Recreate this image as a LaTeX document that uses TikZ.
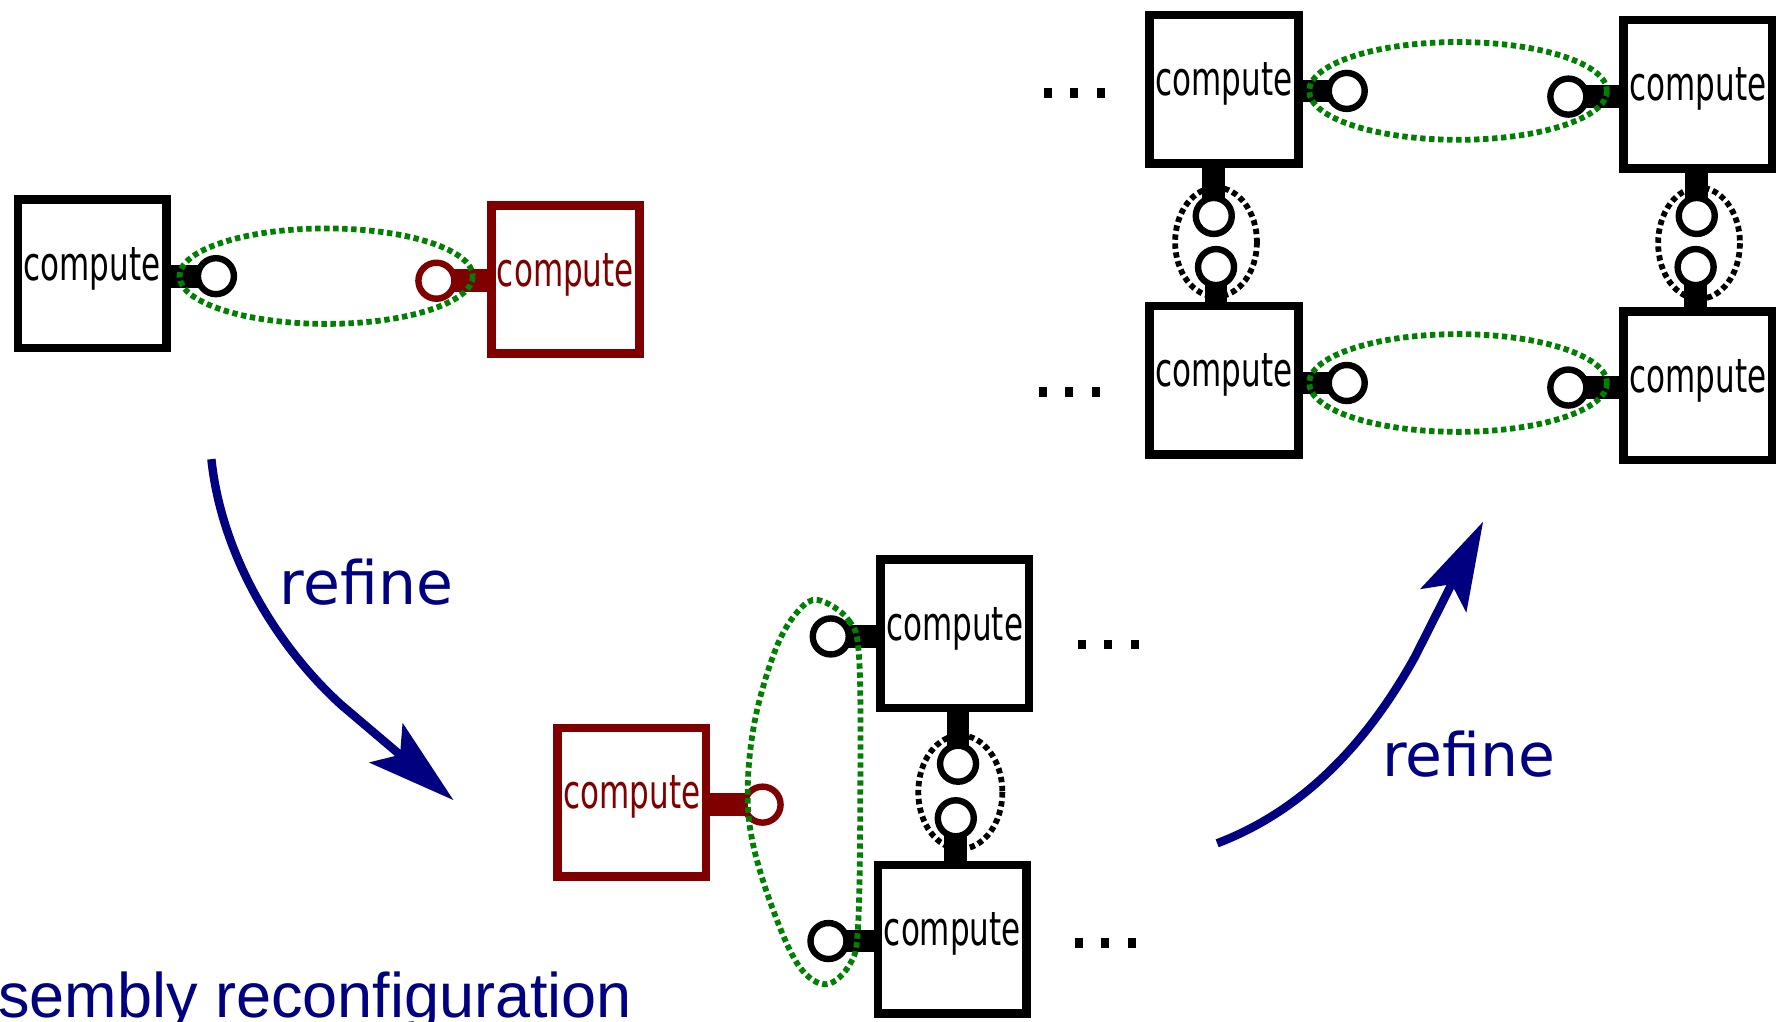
\documentclass[tikz,border=0pt]{standalone}
\usepackage{fontspec}
\usetikzlibrary{arrows.meta}
\newfontfamily\dvs{DejaVu Sans}
\newfontfamily\lib{Liberation Sans}
\definecolor{navyc}{HTML}{000080}
\definecolor{maroonc}{HTML}{800000}
\definecolor{greenc}{HTML}{008000}
\newcommand\computelabel{\scalebox{0.66}[1]{compute}}
\tikzset{
  x=0.56824pt, y=-0.56824pt,
  box/.style={draw=#1, fill=white, line width=4.3pt, minimum size=74.2pt,
    inner sep=0pt, outer sep=0pt,
    label={[font=\dvs\fontsize{23.5}{23.5}\selectfont, text=#1, yshift=2.5pt, inner sep=0pt]center:\computelabel}},
  port/.style={circle, draw=#1, fill=white, line width=3.2pt, minimum size=18pt, inner sep=0pt},
  stub/.style={draw=#1, line width=11.4pt},
  gloop/.style={draw=greenc, line width=2.9pt, dash pattern=on 2.7pt off 1.8pt},
  bloop/.style={draw=black, line width=2.9pt, dash pattern=on 2.7pt off 1.8pt},
  flow/.style={draw=navyc, line width=4.2pt, -{Stealth[length=44pt, width=25.5pt, inset=9pt]}},
  flowtext/.style={font=\dvs\fontsize{30}{30}\selectfont, text=navyc, anchor=base west, inner sep=0pt},
  dot/.style={fill=black, minimum width=4pt, minimum height=4.8pt, inner sep=0pt},
}
\begin{document}
\begin{tikzpicture}
\useasboundingbox (0,0) rectangle (1568,899);
\clip (0,0) rectangle (1568,899);

% ---- components ----
\node[box=black]   (A) at (81,241) {};
\node[box=maroonc] (B) at (497.5,246) {};
\node[box=maroonc] (C) at (556,706) {};
\node[box=black]   (D) at (840,557.5) {};
\node[box=black]   (E) at (838,826.5) {};
\node[box=black]   (F) at (1077,78.5) {};
\node[box=black]   (G) at (1494,83) {};
\node[box=black]   (H) at (1077,334.5) {};
\node[box=black]   (I) at (1494,339.5) {};

% ---- port positions ----
\coordinate (cA)  at (190,243);
\coordinate (cB)  at (384,247);
\coordinate (cC)  at (671,708);
\coordinate (cD)  at (731,560);
\coordinate (cE)  at (729,828);
\coordinate (cDs) at (843,672);
\coordinate (cEn) at (841,720);
\coordinate (cF)  at (1185,80);
\coordinate (cG)  at (1380,85);
\coordinate (cH)  at (1185,337);
\coordinate (cI)  at (1380,341);
\coordinate (cFs) at (1068,190);
\coordinate (cHn) at (1070,235);
\coordinate (cGs) at (1493,190);
\coordinate (cIn) at (1492,235);

% ---- port stubs ----
\draw[stub=black]   (A.east |- cA) -- (cA);
\draw[stub=maroonc] (B.west |- cB) -- (cB);
\draw[stub=maroonc] (C.east |- cC) -- (cC);
\draw[stub=black]   (D.west |- cD) -- (cD);
\draw[stub=black]   (E.west |- cE) -- (cE);
\draw[stub=black]   (D.south -| cDs) -- (cDs);
\draw[stub=black]   (E.north -| cEn) -- (cEn);
\draw[stub=black]   (F.east |- cF) -- (cF);
\draw[stub=black]   (G.west |- cG) -- (cG);
\draw[stub=black]   (H.east |- cH) -- (cH);
\draw[stub=black]   (I.west |- cI) -- (cI);
\draw[stub=black]   (F.south -| cFs) -- (cFs);
\draw[stub=black]   (H.north -| cHn) -- (cHn);
\draw[stub=black]   (G.south -| cGs) -- (cGs);
\draw[stub=black]   (I.north -| cIn) -- (cIn);

% ---- ports ----
\node[port=black]   (pA)  at (cA) {};
\node[port=maroonc] (pB)  at (cB) {};
\node[port=maroonc] (pC)  at (cC) {};
\node[port=black]   (pD)  at (cD) {};
\node[port=black]   (pE)  at (cE) {};
\node[port=black]   (pDs) at (cDs) {};
\node[port=black]   (pEn) at (cEn) {};
\node[port=black]   (pF)  at (cF) {};
\node[port=black]   (pG)  at (cG) {};
\node[port=black]   (pH)  at (cH) {};
\node[port=black]   (pI)  at (cI) {};
\node[port=black]   (pFs) at (cFs) {};
\node[port=black]   (pHn) at (cHn) {};
\node[port=black]   (pGs) at (cGs) {};
\node[port=black]   (pIn) at (cIn) {};

% ---- connections ----
\coordinate (eAB) at (287,243);
\coordinate (eDE) at (845,697);
\coordinate (eFG) at (1283,80);
\coordinate (eHI) at (1283,337);
\coordinate (eFH) at (1070,213);
\coordinate (eGI) at (1495,214);
\draw[gloop] (eAB) ellipse [x radius=129, y radius=42];
\draw[gloop] (eFG) ellipse [x radius=131, y radius=43];
\draw[gloop] (eHI) ellipse [x radius=131, y radius=43];
\draw[bloop] (eDE) ellipse [x radius=37, y radius=50];
\draw[bloop] (eFH) ellipse [x radius=36, y radius=48];
\draw[bloop] (eGI) ellipse [x radius=36, y radius=49];
\draw[gloop] plot[smooth cycle, tension=0.6] coordinates {
  (720,528) (747,546) (756,580) (757,700) (755,815) (748,848) (727,866)
  (703,850) (680,800) (662,740) (658,690) (665,630) (683,570) (702,538)};

% ---- continuation dots ----
\foreach \x in {922,945,968.5} \node[dot] at (\x,82) {};
\foreach \x in {917.5,940.5,964} \node[dot] at (\x,345) {};
\foreach \x in {952,975,999} \node[dot] at (\x,567) {};
\foreach \x in {949,972,996} \node[dot] at (\x,830) {};

% ---- refinement steps ----
\coordinate (r1s) at (186,404);
\coordinate (r1e) at (399,704);
\draw[flow] (r1s) .. controls (195,490) and (245,570) .. (300,620) -- (r1e);
\node[flowtext] (t1) at (246,532) {refine};

\coordinate (r2s) at (1071,742);
\coordinate (r2e) at (1305,459);
\draw[flow] (r2s) .. controls (1150,712) and (1205,650) .. (1245,578) -- (r2e);
\node[flowtext] (t2) at (1216,683.5) {refine};

% ---- caption ----
\node[font=\lib\fontsize{31.5}{31.5}\selectfont, text=navyc, anchor=base west, inner sep=0pt]
  (cap) at (-2,895.5) {sembly reconfiguration};
\end{tikzpicture}
\end{document}
